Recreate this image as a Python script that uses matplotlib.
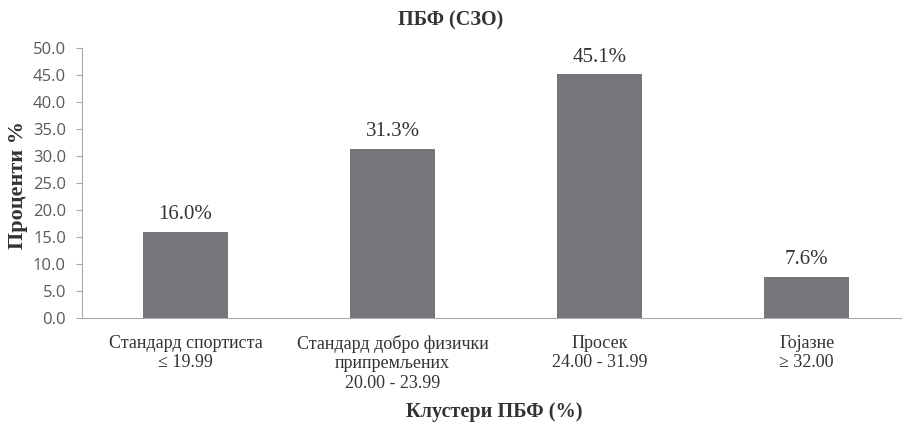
import matplotlib
matplotlib.use("Agg")
import matplotlib.pyplot as plt

categories = [
    "Стандард спортиста\n≤ 19.99",
    "Стандард добро физички\nприпремљених\n20.00 - 23.99",
    "Просек\n24.00 - 31.99",
    "Гојазне\n≥ 32.00",
]
values = [16.0, 31.3, 45.1, 7.6]
yticks = [0, 5, 10, 15, 20, 25, 30, 35, 40, 45, 50]

serif = "Liberation Serif"
sans = "Open Sans"

fig = plt.figure(figsize=(9.02, 4.28), dpi=100)
ax = fig.add_axes([82 / 902, 1 - 318 / 428, (902 - 82) / 902, 270 / 428])

x = range(len(values))
ax.bar(x, values, width=0.41, color="#76767a", zorder=2)
for xi, v in zip(x, values):
    ax.text(xi, v + 1.4, f"{v:.1f}%", ha="center", va="bottom",
            family=serif, fontsize=15, color="#333333")

ax.set_xlim(-0.5, 3.46)
ax.set_ylim(0, 50)
ax.set_yticks(yticks)
ax.set_yticklabels([f"{t:.1f}" for t in yticks], family=sans, fontsize=12, color="#5a5a5a")
ax.set_xticks(list(x))
ax.set_xticklabels(categories, family=serif, fontsize=13, color="#333333", linespacing=1.2)
ax.tick_params(axis="x", length=0, pad=12)
ax.tick_params(axis="y", length=4.5, color="#aaaaaa", pad=7)

for s in ["top", "right"]:
    ax.spines[s].set_visible(False)
ax.spines["left"].set_color("#aaaaaa")
ax.spines["bottom"].set_color("#aaaaaa")

fig.text(451 / 902, 1 - 20 / 428, "ПБФ (СЗО)", ha="center", va="center",
         family=serif, fontsize=14.5, fontweight="bold", color="#333333")
fig.text(18 / 902, 1 - 185 / 428, "Проценти %", ha="center", va="center", rotation=90,
         family=serif, fontsize=16, fontweight="bold", color="#333333")
fig.text(494 / 902, 1 - 412 / 428, "Клустери ПБФ (%)", ha="center", va="center",
         family=serif, fontsize=14.6, fontweight="bold", color="#333333")

fig.savefig("out.png", dpi=100)
